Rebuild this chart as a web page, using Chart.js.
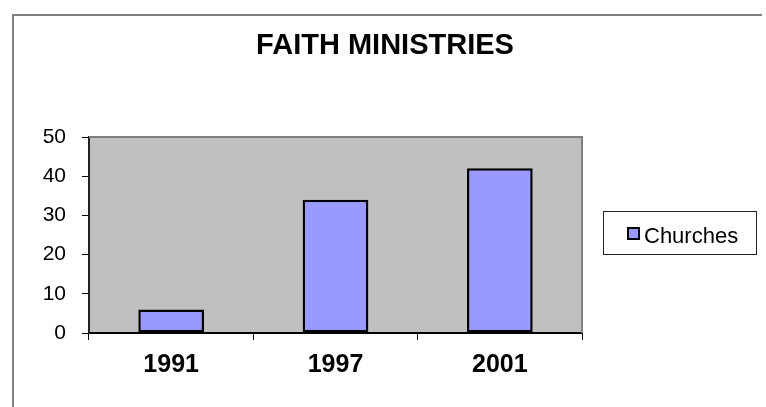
<!DOCTYPE html>
<html>
<head>
<meta charset="utf-8">
<script src="https://cdn.jsdelivr.net/npm/chart.js@4/dist/chart.umd.min.js"></script>
<style>
  html, body { margin: 0; padding: 0; background: #fff; }
  #wrap { width: 766px; height: 407px; }
</style>
</head>
<body>
<div id="wrap"><canvas id="myChart" width="766" height="407"></canvas></div>
<script>
const chartTitle = 'FAITH MINISTRIES'
const years = ['1991', '1997', '2001']
const seriesName = 'Churches'
const churches = [6, 34, 42]
const yMin = 0
const yMax = 50
const yStep = 10

const FONT = '"Liberation Sans", Arial, sans-serif'

// frame, plot background, title and legend box, drawn the way Excel does it
const excelLook = {
  id: 'excelLook',
  beforeDraw(chart) {
    const ctx = chart.ctx
    const a = chart.chartArea
    ctx.save()
    ctx.fillStyle = '#fff'
    ctx.fillRect(0, 0, chart.width, chart.height)
    // outer chart border (only top and left show in the picture)
    ctx.strokeStyle = '#808080'
    ctx.lineWidth = 2
    ctx.beginPath()
    ctx.moveTo(13, 407)
    ctx.lineTo(13, 15)
    ctx.lineTo(762, 15)
    ctx.stroke()
    // plot area
    ctx.fillStyle = '#c0c0c0'
    ctx.fillRect(a.left, a.top, a.right - a.left, a.bottom - a.top)
    ctx.restore()
  },
  afterDraw(chart) {
    const ctx = chart.ctx
    const a = chart.chartArea
    ctx.save()
    // grey top / right edge of the plot area
    ctx.strokeStyle = '#808080'
    ctx.lineWidth = 2
    ctx.beginPath()
    ctx.moveTo(a.left, a.top)
    ctx.lineTo(a.right, a.top)
    ctx.lineTo(a.right, a.bottom)
    ctx.stroke()

    // title
    ctx.fillStyle = '#000'
    ctx.font = 'bold 29px ' + FONT
    ctx.textAlign = 'center'
    ctx.textBaseline = 'alphabetic'
    ctx.fillText(chartTitle, 385, 54)

    // legend
    const ds = chart.data.datasets[0]
    ctx.strokeStyle = '#222'
    ctx.lineWidth = 1
    ctx.strokeRect(603.5, 211.5, 153, 43)
    ctx.fillStyle = ds.backgroundColor
    ctx.fillRect(627, 227, 13, 13)
    ctx.strokeStyle = '#000'
    ctx.lineWidth = 2
    ctx.strokeRect(628, 228, 11, 11)
    ctx.fillStyle = '#000'
    ctx.font = '22px ' + FONT
    ctx.textAlign = 'left'
    ctx.fillText(ds.label, 644, 243)
    ctx.restore()
  }
}

const ctx = document.getElementById('myChart').getContext('2d')

const myChart = new Chart(ctx, {
  type: 'bar',
  data: {
    labels: years,
    datasets: [{
      label: seriesName,
      data: churches,
      backgroundColor: '#9999ff',
      borderColor: '#000',
      borderWidth: 2.5,
      borderSkipped: false,
      barPercentage: 0.4,
      categoryPercentage: 1.0
    }]
  },
  options: {
    responsive: false,
    animation: false,
    devicePixelRatio: 1,
    layout: {
      padding: { left: 0, top: 137, right: 184, bottom: 0 }
    },
    plugins: {
      legend: { display: false },
      title: { display: false },
      tooltip: { enabled: false }
    },
    scales: {
      x: {
        offset: true,
        grid: {
          offset: true,
          drawOnChartArea: false,
          tickLength: 7,
          color: '#000',
          lineWidth: 1
        },
        border: { color: '#000', width: 2 },
        ticks: {
          color: '#000',
          padding: 10,
          font: { family: FONT, size: 25, weight: 'bold' }
        },
        afterFit: (scale) => { scale.height = 74 }
      },
      y: {
        min: yMin,
        max: yMax,
        grid: {
          drawOnChartArea: false,
          tickLength: 7,
          color: '#000',
          lineWidth: 1
        },
        border: { color: '#222', width: 2 },
        ticks: {
          stepSize: yStep,
          color: '#000',
          padding: 16,
          font: { family: FONT, size: 21 }
        },
        afterFit: (scale) => { scale.width = 89 }
      }
    }
  },
  plugins: [excelLook]
})
</script>
</body>
</html>
